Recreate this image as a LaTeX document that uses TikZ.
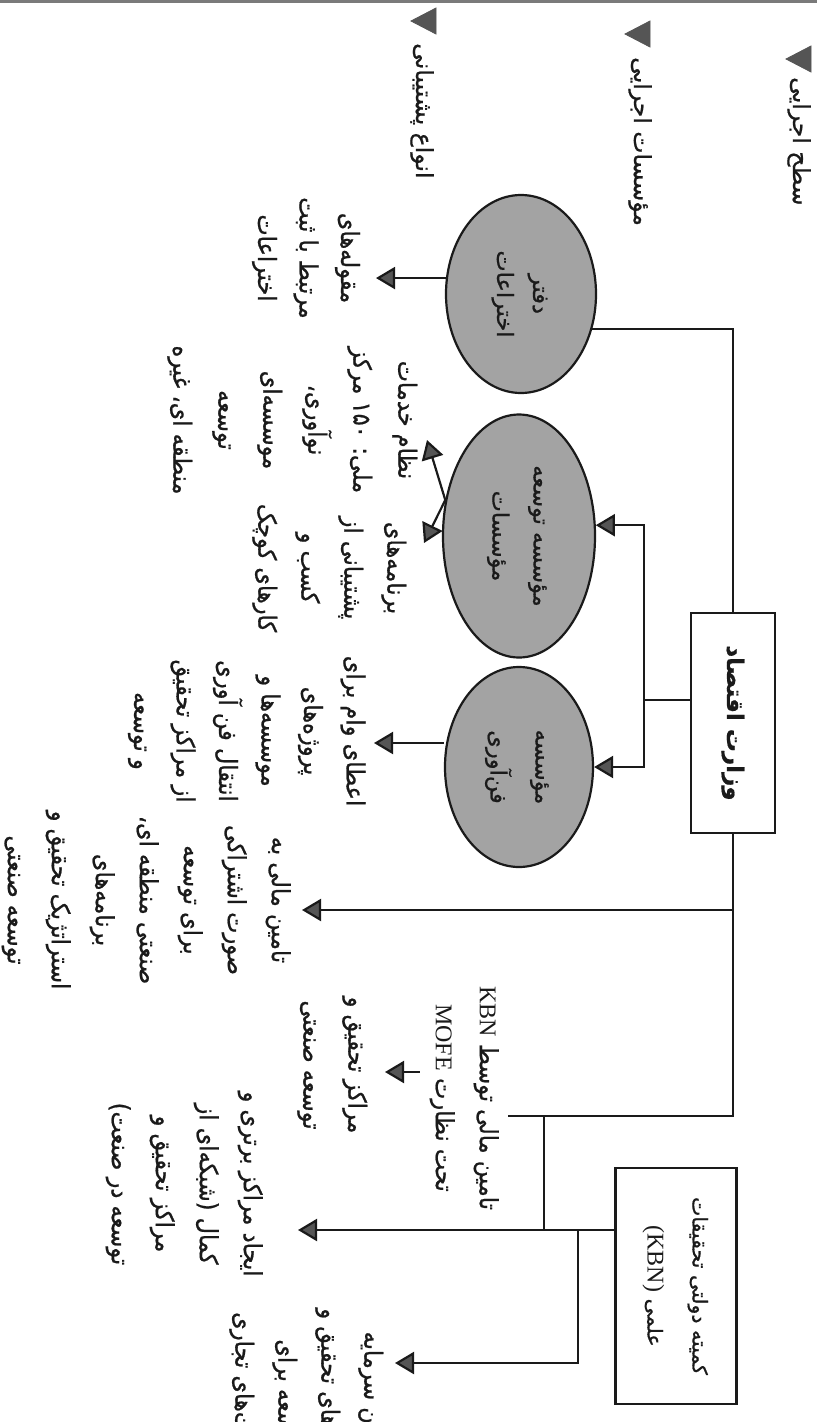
\documentclass[tikz,border=0pt]{standalone}
\usepackage{fontspec}
\usepackage{graphicx}
\usetikzlibrary{arrows.meta,shapes.geometric,calc}
\TeXXeTstate=1
\newfontfamily\arabicfont[Script=Arabic, FakeBold=0.8]{DejaVu Sans}
\newfontfamily\arabicnarrow[Script=Arabic, FakeStretch=0.9, FakeBold=0.8]{DejaVu Sans}
\newfontfamily\latinfont{Liberation Serif}
\newcommand{\rl}[1]{\beginR#1\endR}
\newcommand{\latn}[1]{\beginL{\latinfont\fontsize{24}{44}\selectfont #1}\endL}
% stacked lines, turned a quarter turn clockwise; each row is centred on its letters
\newcommand{\vlines}[1]{\rotatebox{-90}{%
  \setbox\strutbox\hbox{\vrule height\dimexpr0.5\baselineskip+6pt\relax
    depth\dimexpr0.5\baselineskip-6pt\relax width0pt}%
  \begin{tabular}{@{}c@{}}#1\end{tabular}}}
\newcommand{\fa}[2]{\arabicfont\fontsize{#1}{#2}\selectfont}
\newcommand{\fn}[2]{\arabicnarrow\fontsize{#1}{#2}\selectfont}
\definecolor{ink}{HTML}{1A1A1A}
\definecolor{oval}{HTML}{A3A3A3}
\definecolor{tipgray}{HTML}{555555}
\definecolor{edge}{HTML}{7A7A7A}
\tikzset{
  wire/.style={draw=ink, line width=2.2pt},
  arr/.style={wire, -{Triangle[length=19pt,width=22pt,fill=tipgray]}},
  agency/.style={ellipse, draw=ink, line width=2.2pt, fill=oval, inner sep=0pt,
    text=ink},
  office/.style={rectangle, draw=ink, line width=2.2pt, fill=white, inner sep=0pt,
    text=ink},
  lbl/.style={inner ysep=0pt, inner xsep=0pt, text=ink},
  marker/.style={fill=tipgray, draw=tipgray, line width=0.8pt},
}
\begin{document}
\begin{tikzpicture}[x=1pt,y=-1pt]
\path[use as bounding box] (0,0) rectangle (817,1422);
\clip (0,0) rectangle (817,1422);
\fill[white] (0,0) rectangle (817,1422);
\draw[edge, line width=3pt] (0,1.5) -- (817,1.5);

% level headings with their markers
\node[lbl, anchor=north, font=\fa{23.5}{44}] (lvl1) at (799,77) {\vlines{\rl{سطح اجرایی}}};
\node[lbl, anchor=north, font=\fa{23.5}{44}] (lvl2) at (640,57) {\vlines{\rl{مؤسسات اجرایی}}};
\node[lbl, anchor=north, font=\fa{23.5}{44}] (lvl3) at (422,43) {\vlines{\rl{انواع پشتیبانی}}};
\filldraw[marker] (811,46) -- (786,59) -- (811,72) -- cycle;
\filldraw[marker] (650,21) -- (625,34) -- (650,47) -- cycle;
\filldraw[marker] (436,8) -- (411,21) -- (436,34) -- cycle;

% ministries
\node[office, minimum width=84pt, minimum height=220pt,
  font=\arabicfont\bfseries\fontsize{23}{30}\selectfont] (mof) at (733,723)
  {\vlines{\rl{وزارت اقتصاد}}};
\node[office, minimum width=121pt, minimum height=236pt, font=\fa{20.5}{45}] (kbn) at (676,1286)
  {\vlines{\rl{کمیته دولتی تحقیقات}\\\rl{علمی \latn{(KBN)}}}};

% executing agencies
\node[agency, minimum width=150pt, minimum height=198pt, font=\fa{22.5}{36}] (e1) at (521,294)
  {\vlines{\rl{دفتر}\\\rl{اختراعات}}};
\node[agency, minimum width=152pt, minimum height=243pt, font=\fa{22.5}{41}] (e2) at (519,536)
  {\vlines{\rl{مؤسسه توسعه}\\\rl{مؤسسات}}};
\node[agency, minimum width=148pt, minimum height=200pt, font=\fa{22.5}{45}] (e3) at (519,767)
  {\vlines{\rl{مؤسسه}\\\rl{فن‌آوری}}};

% kinds of support
\node[lbl, anchor=east, inner xsep=8pt, font=\fn{25}{41.5}] (cat) at (376,258)
  {\vlines{\rl{مقوله‌های}\\\rl{مرتبط با ثبت}\\\rl{اختراعات}}};
\node[lbl, anchor=east, font=\fn{25}{45}] (svc) at (427,420)
  {\vlines{\rl{نظام خدمات}\\\rl{ملی: ۱۵۰ مرکز}\\\rl{نوآوری،}\\\rl{موسسه‌ای}\\\rl{توسعه}\\\rl{منطقه ای، غیره}}};
\node[lbl, anchor=east, inner xsep=9pt, font=\fn{25}{43}] (prog) at (424,568)
  {\vlines{\rl{برنامه‌های}\\\rl{پشتیبانی از}\\\rl{کسب و}\\\rl{کارهای کوچک}}};
\node[lbl, anchor=east, font=\fn{25}{42.5}] (loan) at (374,731)
  {\vlines{\rl{اعطای وام برای}\\\rl{پروژه‌های}\\\rl{موسسه‌ها و}\\\rl{انتقال فن آوری}\\\rl{از مراکز تحقیق}\\\rl{و توسعه}}};
\node[lbl, anchor=east, inner xsep=2pt, font=\fn{25}{44}] (cofund) at (302,900)
  {\vlines{\rl{تامین مالی به}\\\rl{صورت اشتراکی}\\\rl{برای توسعه}\\\rl{صنعتی منطقه ای،}\\\rl{برنامه‌های}\\\rl{استراتژیک تحقیق و}\\\rl{توسعه صنعتی}}};
\node[lbl, anchor=east, font=\fn{25}{44}] (kbnfund) at (508,1098)
  {\vlines{\rl{تامین مالی توسط \latn{KBN}}\\\rl{تحت نظارت \latn{MOFE}}}};
\node[lbl, anchor=east, inner xsep=8pt, font=\fn{25}{45}] (rdc) at (385,1065)
  {\vlines{\rl{مراکز تحقیق و}\\\rl{توسعه صنعتی}}};
\node[lbl, anchor=east, inner xsep=26pt, font=\fn{25}{44}] (exc) at (298,1184)
  {\vlines{\rl{ایجاد مراکز برتری و}\\\rl{کمال (شبکه‌ای از}\\\rl{مراکز تحقیق و}\\\rl{توسعه در صنعت)}}};
\node[lbl, anchor=east, inner xsep=3pt, font=\fn{25}{43}] (cap) at (395,1394)
  {\vlines{\rl{تأمین سرمایه}\\\rl{پروژه‌های تحقیق و}\\\rl{توسعه برای}\\\rl{شرکت‌های تجاری}}};

% junctions
\coordinate (jw) at (644,700);
\coordinate (ja) at (544,1116);
\coordinate (jc) at (578,1230);

% connectors
\draw[wire] (mof.north) |- (e1.-26);
\draw[wire] (mof.west |- jw) -- (jw);
\draw[arr] (jw) |- (e2.8);
\draw[arr] (jw) |- (e3.east);
\draw[arr] (e1.168) -- (cat.east |- e1.168);
\draw[arr] (e2.154) -- (svc.east |- 0,440);
\draw[arr] (e2.154) -- (prog.east |- 0,543);
\draw[arr] (e3.west |- 0,743) -- (loan.east |- 0,743);
\draw[wire] (mof.south) |- (kbnfund.east |- ja);
\draw[arr] (mof.south |- 0,910) -- (cofund.east |- 0,910);
\draw[arr] (kbnfund.west |- 0,1072) -- (rdc.east |- 0,1072);
\draw[wire] (ja) -- (ja |- jc);
\draw[arr] (kbn.west |- jc) -- (exc.east |- jc);
\draw[arr] (jc) |- (cap.east |- 0,1363);
\end{tikzpicture}
\end{document}
